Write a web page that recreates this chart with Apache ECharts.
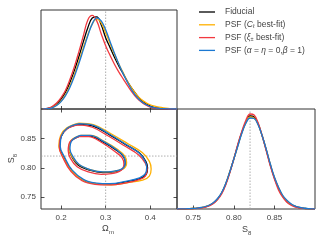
<!DOCTYPE html>
<html><head><meta charset="utf-8">
<script src="https://cdn.jsdelivr.net/npm/echarts@6/dist/echarts.min.js"></script>
<style>html,body{margin:0;padding:0;background:#fff}#c{width:325px;height:244px}</style>
</head><body><div id="c"></div>
<script>
// ---- data ----
const SERIES_NAMES = ['Fiducial', 'PSF (Cl best-fit)', 'PSF (xi best-fit)', 'PSF (alpha=eta=0,beta=1)'];
const OM_TRUE = 0.3;
const S8_TRUE = 0.82;
const OM_TICKS = [0.2, 0.3, 0.4];
const S8_TICKS = [0.75, 0.80, 0.85];

const OM_GRID = [0.16,0.17,0.18,0.19,0.20,0.21,0.22,0.23,0.24,0.25,0.26,0.27,0.28,0.29,0.30,0.31,0.32,0.33,0.34,0.35,0.36,0.37,0.38,0.39,0.40,0.41,0.42,0.43,0.44,0.45,0.46];
const P_OM_FID    = [0,0.005,0.02,0.05,0.10,0.17,0.27,0.39,0.53,0.68,0.82,0.92,0.93,0.85,0.72,0.62,0.52,0.43,0.35,0.27,0.20,0.14,0.09,0.055,0.03,0.015,0.007,0.003,0.001,0,0];
const P_OM_CL     = [0,0.004,0.015,0.04,0.08,0.145,0.235,0.35,0.48,0.62,0.75,0.86,0.91,0.87,0.77,0.66,0.55,0.45,0.36,0.27,0.20,0.14,0.095,0.065,0.043,0.028,0.018,0.011,0.006,0.003,0.001];
const P_OM_XI     = [0,0.007,0.025,0.06,0.115,0.19,0.30,0.43,0.58,0.74,0.90,0.945,0.89,0.76,0.64,0.54,0.45,0.37,0.30,0.23,0.165,0.11,0.07,0.04,0.02,0.01,0.004,0.001,0,0,0];
const P_OM_AB     = [0,0.003,0.012,0.035,0.075,0.135,0.22,0.33,0.46,0.60,0.74,0.86,0.92,0.89,0.80,0.68,0.56,0.45,0.35,0.26,0.18,0.12,0.075,0.045,0.025,0.013,0.006,0.003,0.001,0,0];

const S8_GRID = [0.730,0.735,0.740,0.745,0.750,0.755,0.760,0.765,0.770,0.775,0.780,0.785,0.790,0.795,0.800,0.805,0.810,0.815,0.820,0.825,0.830,0.835,0.840,0.845,0.850,0.855,0.860,0.865,0.870,0.875,0.880,0.885,0.890,0.895,0.900];
const P_S8_FID = [0,0.001,0.002,0.003,0.005,0.008,0.013,0.022,0.037,0.06,0.10,0.16,0.25,0.37,0.50,0.64,0.77,0.87,0.93,0.92,0.85,0.73,0.59,0.44,0.31,0.21,0.13,0.08,0.048,0.028,0.015,0.008,0.004,0.001,0];
const P_S8_CL  = [0,0.001,0.002,0.003,0.005,0.008,0.014,0.023,0.038,0.062,0.10,0.16,0.25,0.37,0.50,0.635,0.765,0.865,0.92,0.91,0.845,0.73,0.59,0.445,0.315,0.215,0.135,0.085,0.05,0.03,0.017,0.009,0.004,0.002,0];
const P_S8_XI  = [0,0.001,0.001,0.002,0.004,0.007,0.011,0.019,0.033,0.055,0.093,0.15,0.24,0.36,0.50,0.65,0.78,0.89,0.95,0.94,0.86,0.73,0.58,0.43,0.30,0.19,0.12,0.07,0.04,0.022,0.012,0.006,0.003,0.001,0];
const P_S8_AB  = [0,0.001,0.002,0.004,0.006,0.009,0.015,0.025,0.04,0.065,0.105,0.165,0.255,0.37,0.50,0.63,0.76,0.86,0.91,0.905,0.84,0.73,0.595,0.45,0.32,0.22,0.14,0.09,0.055,0.032,0.018,0.01,0.005,0.002,0];

// 2D contours [Omega_m, S8]
const C95_FID = [[0.240,0.874],[0.272,0.871],[0.309,0.856],[0.346,0.839],[0.376,0.825],[0.390,0.811],[0.394,0.800],[0.391,0.789],[0.378,0.782],[0.346,0.776],[0.309,0.772],[0.279,0.773],[0.250,0.779],[0.224,0.795],[0.207,0.817],[0.197,0.836],[0.200,0.853],[0.214,0.867],[0.240,0.874]];
const C95_CL  = [[0.240,0.876],[0.274,0.873],[0.312,0.858],[0.350,0.841],[0.382,0.826],[0.398,0.811],[0.402,0.798],[0.398,0.786],[0.383,0.779],[0.350,0.775],[0.312,0.771],[0.280,0.773],[0.250,0.779],[0.223,0.795],[0.205,0.818],[0.195,0.837],[0.199,0.855],[0.213,0.868],[0.240,0.876]];
const C95_XI  = [[0.238,0.873],[0.270,0.869],[0.306,0.854],[0.343,0.837],[0.374,0.822],[0.389,0.808],[0.393,0.797],[0.389,0.786],[0.375,0.780],[0.343,0.774],[0.306,0.771],[0.276,0.772],[0.247,0.778],[0.222,0.794],[0.205,0.816],[0.196,0.835],[0.199,0.852],[0.213,0.866],[0.238,0.873]];
const C95_AB  = [[0.241,0.875],[0.273,0.872],[0.309,0.857],[0.345,0.840],[0.374,0.826],[0.388,0.812],[0.392,0.801],[0.389,0.790],[0.376,0.783],[0.345,0.777],[0.309,0.773],[0.280,0.774],[0.251,0.780],[0.225,0.796],[0.208,0.818],[0.198,0.837],[0.201,0.854],[0.215,0.868],[0.241,0.875]];
const C68_FID = [[0.242,0.854],[0.264,0.854],[0.294,0.844],[0.324,0.830],[0.340,0.819],[0.344,0.808],[0.338,0.798],[0.316,0.793],[0.294,0.792],[0.264,0.796],[0.238,0.805],[0.224,0.819],[0.218,0.831],[0.222,0.845],[0.242,0.854]];
const C68_CL  = [[0.244,0.855],[0.267,0.855],[0.297,0.845],[0.327,0.831],[0.343,0.820],[0.347,0.809],[0.341,0.799],[0.318,0.794],[0.295,0.793],[0.265,0.797],[0.239,0.806],[0.224,0.820],[0.218,0.832],[0.222,0.846],[0.244,0.855]];
const C68_XI  = [[0.240,0.853],[0.262,0.853],[0.291,0.843],[0.320,0.828],[0.337,0.817],[0.341,0.806],[0.335,0.796],[0.313,0.790],[0.290,0.789],[0.261,0.793],[0.236,0.802],[0.221,0.816],[0.216,0.829],[0.220,0.844],[0.240,0.853]];
const C68_AB  = [[0.243,0.855],[0.265,0.855],[0.295,0.845],[0.324,0.831],[0.340,0.820],[0.344,0.809],[0.338,0.799],[0.316,0.794],[0.294,0.793],[0.265,0.797],[0.240,0.806],[0.226,0.820],[0.220,0.832],[0.224,0.846],[0.243,0.855]];

// ---- style ----
const COLORS = ['#000000', '#FFB000', '#F2393F', '#1B78D2'];
const OM_MIN = 0.155, OM_MAX = 0.46, S8_MIN = 0.73, S8_MAX = 0.90;
const FONT = 'Liberation Sans';
const TXT = '#444';

const P_OM = [P_OM_FID, P_OM_CL, P_OM_XI, P_OM_AB];
const P_S8 = [P_S8_FID, P_S8_CL, P_S8_XI, P_S8_AB];
const C95 = [C95_FID, C95_CL, C95_XI, C95_AB];
const C68 = [C68_FID, C68_CL, C68_XI, C68_AB];

const series = [];
const guide = {color: '#999', width: 0.8, type: [1.5, 1.5]};
series.push({type:'line', xAxisIndex:0, yAxisIndex:0, data:[[OM_TRUE,0],[OM_TRUE,1]], symbol:'none', lineStyle:guide, silent:true, z:1});
series.push({type:'line', xAxisIndex:1, yAxisIndex:1, data:[[OM_TRUE,S8_MIN],[OM_TRUE,S8_MAX]], symbol:'none', lineStyle:guide, silent:true, z:1});
series.push({type:'line', xAxisIndex:1, yAxisIndex:1, data:[[OM_MIN,S8_TRUE],[OM_MAX,S8_TRUE]], symbol:'none', lineStyle:guide, silent:true, z:1});
series.push({type:'line', xAxisIndex:3, yAxisIndex:3, data:[[S8_TRUE,0],[S8_TRUE,1]], symbol:'none', lineStyle:guide, silent:true, z:1});

for (let i = 0; i < 4; i++) {
  const ls = {color: COLORS[i], width: 1.3};
  const common = {name: SERIES_NAMES[i], type:'line', symbol:'none', smooth:0.4, lineStyle: ls, itemStyle:{color:COLORS[i]}, z: 2 + i, silent:true};
  series.push(Object.assign({}, common, {xAxisIndex:0, yAxisIndex:0, data: OM_GRID.map((x,k)=>[x, P_OM[i][k]])}));
  series.push(Object.assign({}, common, {xAxisIndex:1, yAxisIndex:1, data: C95[i]}));
  series.push(Object.assign({}, common, {xAxisIndex:1, yAxisIndex:1, data: C68[i]}));
  series.push(Object.assign({}, common, {xAxisIndex:3, yAxisIndex:3, data: S8_GRID.map((x,k)=>[x, P_S8[i][k]])}));
}

const labelStyle = {color: TXT, fontSize: 8, fontFamily: FONT};
const tickStyle = {color: '#222', width: 0.8};
const gridBase = {show:true, borderColor:'#333', borderWidth:1, backgroundColor:'transparent'};

const LEGEND_TEXT = {
  'Fiducial': 'Fiducial',
  'PSF (Cl best-fit)': 'PSF ({it|C}{sub|ℓ} best-fit)',
  'PSF (xi best-fit)': 'PSF ({it|ξ}{sub|±} best-fit)',
  'PSF (alpha=eta=0,beta=1)': 'PSF ({it|α} = {it|η} = 0,{it|β} = 1)'
};

const option = {
  animation: false,
  grid: [
    Object.assign({left:41, top:10, width:136, height:99}, gridBase),
    Object.assign({left:41, top:109, width:136, height:100}, gridBase),
    Object.assign({left:177, top:109, width:138, height:100}, gridBase)
  ],
  xAxis: [
    {gridIndex:0, type:'value', min:OM_MIN, max:OM_MAX, axisLine:{show:false}, splitLine:{show:false},
     axisTick:{show:true, inside:true, length:3, lineStyle:tickStyle, customValues:OM_TICKS}, axisLabel:{show:false}},
    {gridIndex:1, type:'value', min:OM_MIN, max:OM_MAX, axisLine:{show:false}, splitLine:{show:false},
     axisTick:{show:true, inside:true, length:3.5, lineStyle:tickStyle, customValues:OM_TICKS},
     axisLabel:Object.assign({show:true, margin:5, customValues:OM_TICKS, formatter:v=>v.toFixed(1)}, labelStyle)},
    {gridIndex:1, type:'value', position:'top', min:OM_MIN, max:OM_MAX, axisLine:{show:false}, splitLine:{show:false},
     axisTick:{show:true, inside:true, length:3.5, lineStyle:tickStyle, customValues:OM_TICKS}, axisLabel:{show:false}},
    {gridIndex:2, type:'value', min:S8_MIN, max:S8_MAX, axisLine:{show:false}, splitLine:{show:false},
     axisTick:{show:true, inside:true, length:3.5, lineStyle:tickStyle, customValues:S8_TICKS},
     axisLabel:Object.assign({show:true, margin:5, customValues:S8_TICKS, formatter:v=>v.toFixed(2)}, labelStyle)}
  ],
  yAxis: [
    {gridIndex:0, type:'value', min:0, max:1, axisLine:{show:false}, splitLine:{show:false}, axisTick:{show:false}, axisLabel:{show:false}},
    {gridIndex:1, type:'value', min:S8_MIN, max:S8_MAX, axisLine:{show:false}, splitLine:{show:false},
     axisTick:{show:true, inside:true, length:3.5, lineStyle:tickStyle, customValues:S8_TICKS},
     axisLabel:Object.assign({show:true, margin:5, customValues:S8_TICKS, formatter:v=>v.toFixed(2)}, labelStyle)},
    {gridIndex:1, type:'value', position:'right', min:S8_MIN, max:S8_MAX, axisLine:{show:false}, splitLine:{show:false},
     axisTick:{show:true, inside:true, length:3.5, lineStyle:tickStyle, customValues:S8_TICKS}, axisLabel:{show:false}},
    {gridIndex:2, type:'value', min:0, max:1, axisLine:{show:false}, splitLine:{show:false}, axisTick:{show:false}, axisLabel:{show:false}}
  ],
  legend: {
    data: SERIES_NAMES, orient:'vertical', left:199, top:7, padding:0, icon:'rect', itemWidth:16, itemHeight:1.3, itemGap:2.8,
    selectedMode:false,
    formatter: n => LEGEND_TEXT[n],
    textStyle: {color: TXT, fontSize: 8.5, fontFamily: FONT, lineHeight: 10, padding:[0,0,0,5],
      rich: {
        it: {fontSize: 8.5, fontStyle:'italic', fontFamily: FONT, color: TXT, lineHeight: 10},
        sub: {fontSize: 5.5, fontFamily: FONT, color: TXT, lineHeight: 6, verticalAlign:'bottom'}
      }}
  },
  graphic: [
    {type:'text', left:102, top:224, style:{text:'Ω', fontSize:9, fontFamily:FONT, fill:TXT}},
    {type:'text', left:109, top:229, style:{text:'m', fontSize:6, fontFamily:FONT, fill:TXT}},
    {type:'text', left:242, top:225, style:{text:'S', fontSize:9, fontFamily:FONT, fill:TXT}},
    {type:'text', left:248, top:230, style:{text:'8', fontSize:6, fontFamily:FONT, fill:TXT}},
    {type:'group', left:7, top:154, children:[
      {type:'text', x:0, y:9, rotation:Math.PI/2, style:{text:'S', fontSize:9, fontFamily:FONT, fill:TXT}},
      {type:'text', x:5, y:3, rotation:Math.PI/2, style:{text:'8', fontSize:6, fontFamily:FONT, fill:TXT}}
    ]}
  ],
  series: series
};
echarts.init(document.getElementById('c'), null, {renderer:'canvas'}).setOption(option);
</script>
</body></html>
